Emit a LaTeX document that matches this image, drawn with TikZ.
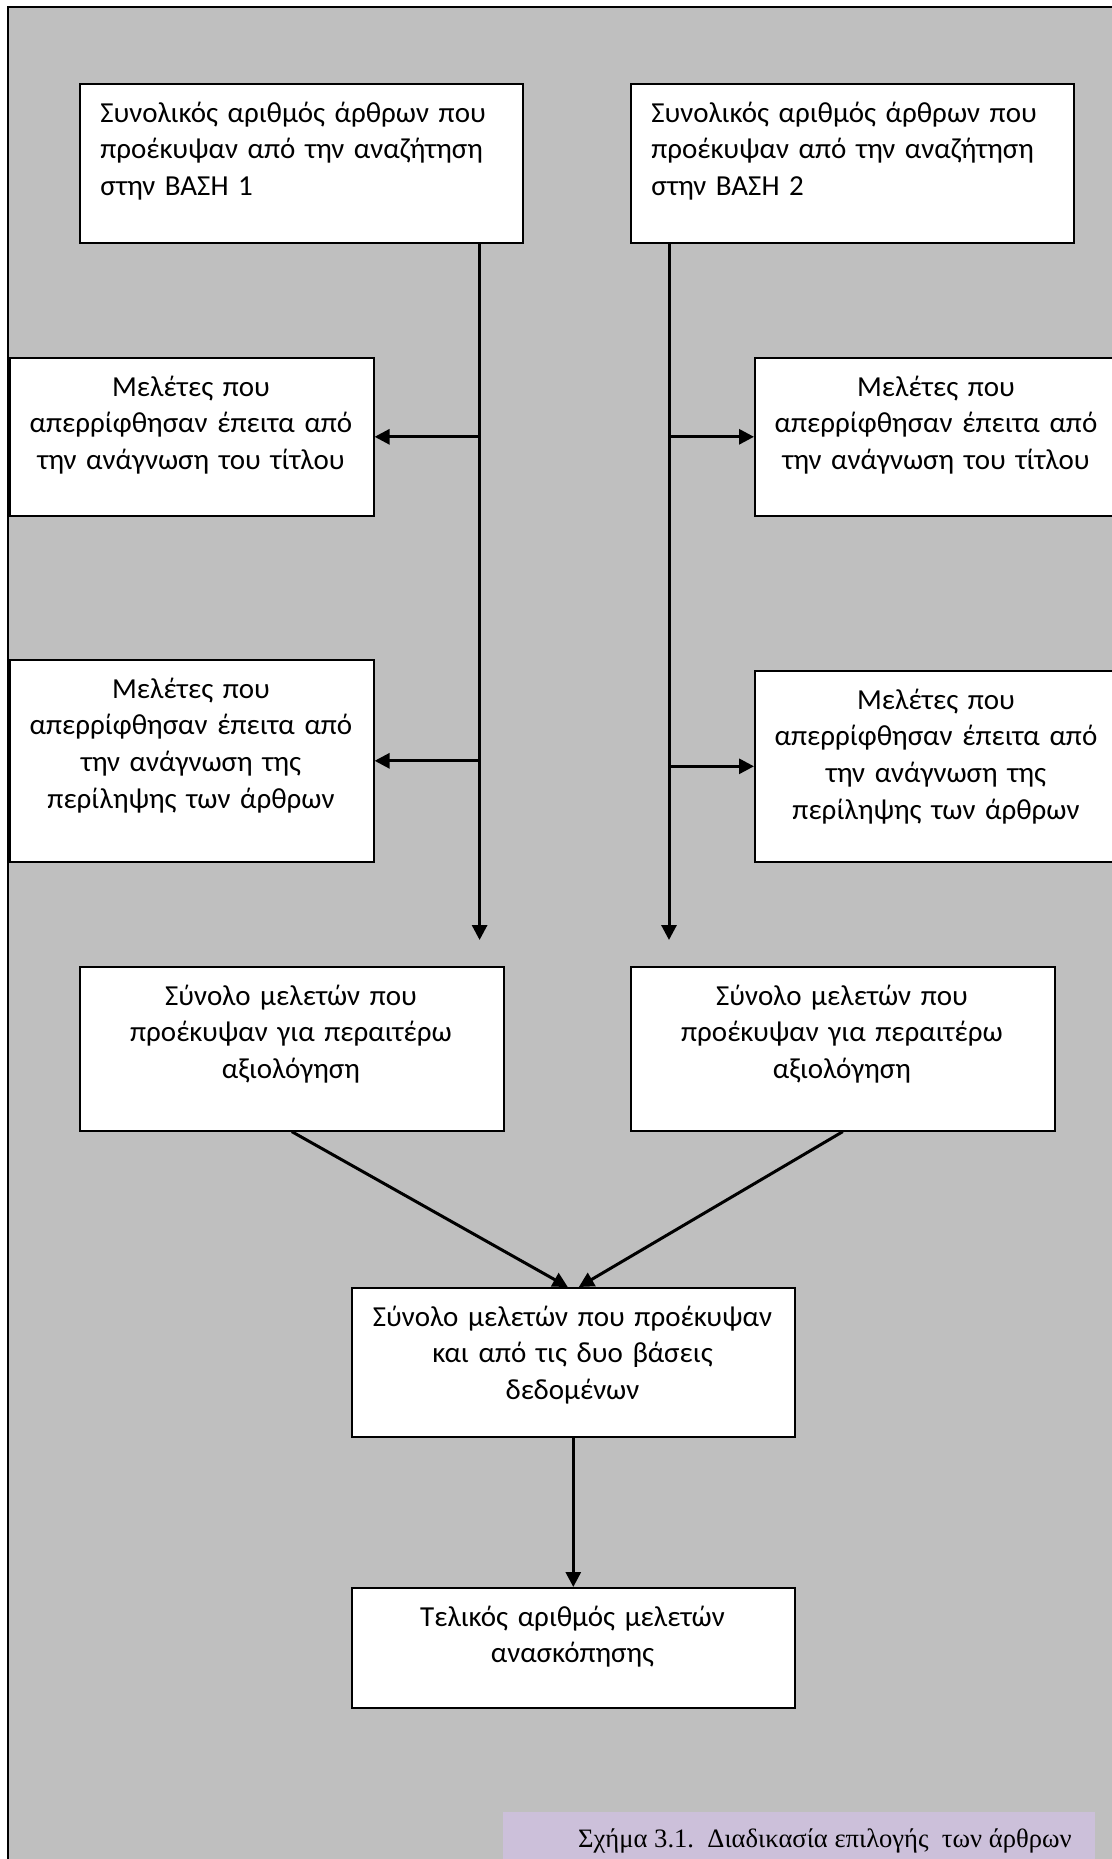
\documentclass[tikz,border=0pt]{standalone}
\usepackage{fontspec}
\setmainfont{Carlito}
\newfontfamily\capfont{Liberation Serif}
\usetikzlibrary{arrows.meta}
\definecolor{bggray}{RGB}{191,191,191}
\definecolor{caplilac}{RGB}{204,192,218}
\tikzset{
	box/.style={draw, fill=white, line width=0.8pt, inner sep=0pt, anchor=north west},
	txt/.style={inner sep=0pt, anchor=base, align=center, text width=210pt, font=\fontsize{14.5}{18.35}\selectfont},
	arr/.style={-{Triangle[length=7.5pt,width=7.5pt]}, line width=1.5pt}
}
\begin{document}
\begin{tikzpicture}[x=0.5pt,y=-0.5pt]
		\path[use as bounding box, clip] (0,0) rectangle (1112,1859);
		\draw[fill=bggray, line width=1pt] (8,7) rectangle (1140,1890);
		
		% search results of the two bases
		\foreach \n/\x in {1/79,2/630}
		{
		\node[box, minimum width=221.5pt, minimum height=79.5pt] (b\n) at (\x,83) {};
		\node[txt, anchor=base west, align=left, text width=205pt] (b\n t) at (\x+21,122) {Συνολικός αριθμός άρθρων που\\προέκυψαν από την αναζήτηση\\στην ΒΑΣΗ \n};
		}
		
		% rejected studies
		\foreach \s/\x/\y/\h in {l/9/357/79, r/754/357/79}
		{
		\node[box, minimum width=182pt, minimum height=\h pt] (\s1) at (\x,\y) {};
		\node[txt] (\s1t) at (\x+182,\y+39) {Μελέτες που\\απερρίφθησαν έπειτα από\\την ανάγνωση του τίτλου};
		}
		\foreach \s/\x/\y/\h in {l/9/659/101, r/754/670/95.5}
		{
		\node[box, minimum width=182pt, minimum height=\h pt] (\s2) at (\x,\y) {};
		\node[txt] (\s2t) at (\x+182,\y+39) {Μελέτες που\\απερρίφθησαν έπειτα από\\την ανάγνωση της\\περίληψης των άρθρων};
		}
		
		% studies kept
		\foreach \n/\x in {1/79,2/630}
		{
		\node[box, minimum width=212pt, minimum height=82pt] (s\n) at (\x,966) {};
		\node[txt] (s\n t) at (\x+212,1005) {Σύνολο μελετών που\\προέκυψαν για περαιτέρω\\αξιολόγηση};
		}
		
		\node[box, minimum width=221.5pt, minimum height=74.5pt] (m) at (351,1287) {};
		\node[txt] (mt) at (572.5,1326) {Σύνολο μελετών που προέκυψαν\\και από τις δυο βάσεις\\δεδομένων};
		\node[box, minimum width=221.5pt, minimum height=60pt] (f) at (351,1587) {};
		\node[txt] (ft) at (572.5,1626) {Τελικός αριθμός μελετών\\ανασκόπησης};
		
		% caption
		\node[fill=caplilac, inner sep=0pt, anchor=north west, minimum width=296pt, minimum height=30pt] (cap) at (503,1812) {};
		\node[inner sep=0pt, anchor=base east, font=\capfont\fontsize{13.3}{15}\selectfont] (capt) at (1072,1847) {Σχήμα 3.1.\ \ Διαδικασία επιλογής\ \ των άρθρων};
		
		% connectors
		\coordinate (lend) at (479.6,940);
		\coordinate (rend) at (669,940);
		\draw[arr] (b1.south -| lend) to (lend);
		\draw[arr] (b2.south -| rend) to (rend);
		\foreach \i in {1,2}
		{
		\draw[arr] (l\i.east -| lend) to (l\i.east);
		\draw[arr] (r\i.west -| rend) to (r\i.west);
		}
		\draw[arr] (s1.south) to ([xshift=-2.75pt]m.north);
		\draw[arr] (s2.south) to ([xshift=2.75pt]m.north);
		\draw[arr] (m.south) to (f.north);
\end{tikzpicture}
\end{document}
